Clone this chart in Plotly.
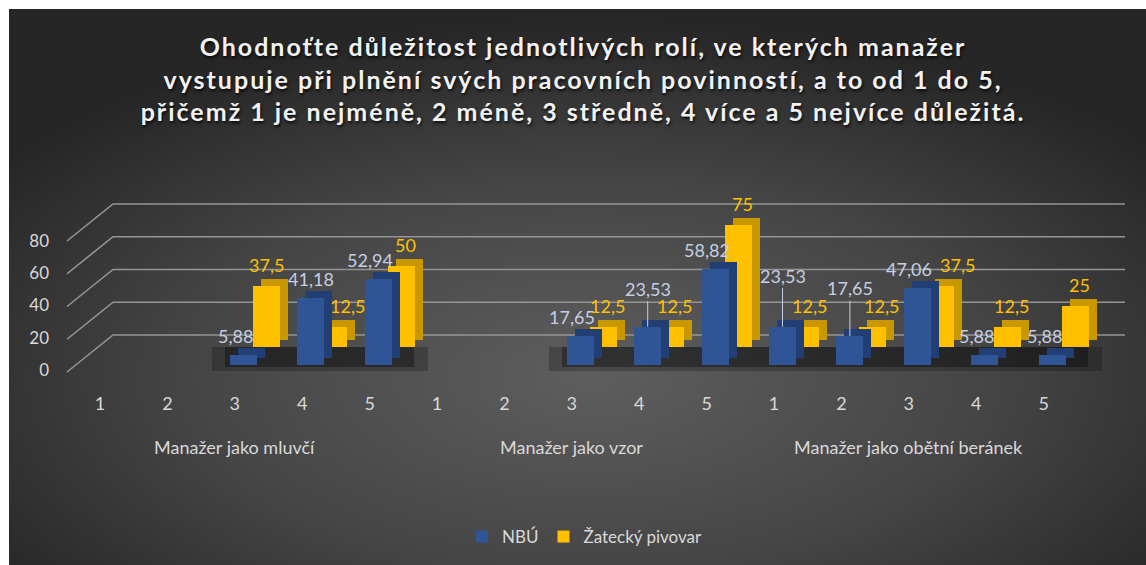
import base64
import plotly.graph_objects as go

# data
groups = ['Manažer jako mluvčí', 'Manažer jako vzor', 'Manažer jako obětní beránek']
levels = ['1', '2', '3', '4', '5']
nbu = [None, None, 5.88, 41.18, 52.94,
       None, None, 17.65, 23.53, 58.82,
       23.53, 17.65, 47.06, 5.88, 5.88]
zatec = [None, None, 37.5, 12.5, 50,
         None, None, 12.5, 12.5, 75,
         12.5, 12.5, 37.5, 12.5, 25]
y_ticks = [0, 20, 40, 60, 80]

title_lines = ['Ohodnoťte důležitost jednotlivých rolí, ve kterých manažer',
               'vystupuje při plnění svých pracovních povinností, a to od 1 do 5,',
               'přičemž 1 je nejméně, 2 méně, 3 středně, 4 více a 5 nejvíce důležitá.']

idx = list(range(len(nbu)))
ticktext = levels * len(groups)

# page geometry (px) used to fake the excel 3d look
W, H = 1146, 565
L, R, T, B = 56, 1126, 150, 385
STEP = 67.4
K = 1.63          # px per unit for the bars
DX, DY = 8, 7     # depth of the 3d boxes
BAR_W = 0.4

BLUE, BLUE_SIDE = '#2F5597', '#213F74'
YELLOW, YELLOW_SIDE = '#FFC000', '#C99700'
BLUE_LBL = '#C5CFE3'
GRID = '#959595'
TXT = '#D9D9D9'
FONT = 'Lato'


def x_range(px0):
    return [(L - px0) / STEP, (R - px0) / STEP]


def y_range(py0, k):
    return [-(B - py0) / k, (py0 - T) / k]


def fmt(v):
    return f'{v:g}'.replace('.', ',')


def only(vals):
    xs = [i for i, v in zip(idx, vals) if v is not None]
    ys = [v for v in vals if v is not None]
    return xs, ys


fig = go.Figure()

# back wall grid (on pixel/wall helper axes)
gx, gy = [], []
for v in y_ticks:
    gx += [67, 113, 1125, None]
    gy += [v - 37 / 1.6375, v, v, None]
fig.add_trace(go.Scatter(x=gx, y=gy, mode='lines', xaxis='x2', yaxis='y2',
                         line=dict(color=GRID, width=1.6), hoverinfo='skip',
                         showlegend=False))

# floor shadow: one soft block per run of categories that have data
has_data = [i for i in idx if nbu[i] is not None or zatec[i] is not None]
runs = []
for i in has_data:
    if runs and runs[-1][1] == i - 1:
        runs[-1][1] = i
    else:
        runs.append([i, i])
for extra, h, alpha in [(1.2, 14.5, 0.22), (0.8, 12.5, 0.32)]:
    fig.add_trace(go.Bar(x=[(a + b) / 2 - 14 / STEP for a, b in runs],
                         y=[h] * len(runs), base=-h,
                         width=[b - a + extra for a, b in runs], xaxis='x3', yaxis='y3',
                         marker=dict(color=f'rgba(0,0,0,{alpha})', line_width=0),
                         hoverinfo='skip', showlegend=False))

# yellow series (back row)
zx, zy = only(zatec)
fig.add_trace(go.Bar(x=[i + DX / STEP for i in zx], y=zy, base=DY / K, width=BAR_W,
                     xaxis='x3', yaxis='y3', marker=dict(color=YELLOW_SIDE, line_width=0),
                     hoverinfo='skip', showlegend=False))
fig.add_trace(go.Bar(x=zx, y=zy, width=BAR_W, name='Žatecký pivovar', legendrank=2,
                     xaxis='x3', yaxis='y3', marker=dict(color=YELLOW, line_width=0)))

# blue series (front row)
bx, by = only(nbu)
fig.add_trace(go.Bar(x=[i + DX / STEP for i in bx], y=by, base=DY / K, width=BAR_W,
                     xaxis='x4', yaxis='y4', marker=dict(color=BLUE_SIDE, line_width=0),
                     hoverinfo='skip', showlegend=False))
fig.add_trace(go.Bar(x=bx, y=by, width=BAR_W, name='NBÚ', legendrank=1,
                     xaxis='x4', yaxis='y4', marker=dict(color=BLUE, line_width=0)))

# data labels (leader lines and nudges where excel moved labels apart)
leader = {8: 38, 10: 51, 11: 48}
blue_nudge = {3: 8}
yellow_nudge = {2: -4, 3: 10, 11: 5, 12: 13}
annotations = []
for i, v in zip(bx, by):
    if i in leader:
        annotations.append(dict(x=i, y=v, xref='x4', yref='y4', text=fmt(v),
                                showarrow=True, ax=0, ay=-leader[i], arrowhead=0,
                                arrowwidth=1, arrowcolor=BLUE_LBL, standoff=0,
                                font=dict(family=FONT, size=18, color=BLUE_LBL)))
    else:
        annotations.append(dict(x=i, y=v, xref='x4', yref='y4', text=fmt(v),
                                showarrow=False, xshift=-8 + blue_nudge.get(i, 0), yshift=19,
                                xanchor='center', yanchor='middle',
                                font=dict(family=FONT, size=18, color=BLUE_LBL)))
for i, v in zip(zx, zy):
    annotations.append(dict(x=i, y=v, xref='x3', yref='y3', text=fmt(v),
                            showarrow=False, xshift=4 + yellow_nudge.get(i, 0), yshift=21,
                            xanchor='center', yanchor='middle',
                            font=dict(family=FONT, size=18, color=YELLOW)))

# group labels under the level ticks
for g, name in enumerate(groups):
    annotations.append(dict(x=g * len(levels) + 2, y=(B - 447) / (B - T), xref='x',
                            yref='paper', text=name, showarrow=False,
                            xanchor='center', yanchor='middle',
                            font=dict(family=FONT, size=18, color=TXT)))

# gradient background of the chart area
bg_svg = (f'<svg xmlns="http://www.w3.org/2000/svg" width="{W}" height="{H}">'
          '<defs><radialGradient id="g" cx="0.51" cy="0.66" r="0.64">'
          '<stop offset="0" stop-color="#5E5E5E"/><stop offset="0.55" stop-color="#454545"/>'
          '<stop offset="1" stop-color="#262626"/></radialGradient></defs>'
          f'<rect x="0" y="0" width="{W}" height="{H}" fill="url(#g)"/></svg>')
bg_src = 'data:image/svg+xml;base64,' + base64.b64encode(bg_svg.encode()).decode()

hidden = dict(visible=False, showgrid=False, zeroline=False, fixedrange=True)

title_html = '<br>'.join(f'<span style="letter-spacing:2px">{t}</span>' for t in title_lines)

fig.update_layout(
    width=W, height=H,
    margin=dict(l=L, r=W - R, t=T, b=H - B, autoexpand=False),
    paper_bgcolor='white',
    plot_bgcolor='rgba(0,0,0,0)',
    barmode='overlay',
    bargap=0,
    title=dict(text=title_html, x=583 / W, xref='container', xanchor='center',
               y=1 - 56 / H, yref='container', yanchor='top',
               font=dict(family=FONT, size=25, weight='bold', color='#F2F2F2',
                         shadow='1px 2px 3px rgba(0,0,0,0.8)')),
    xaxis=dict(range=x_range(100), tickmode='array', tickvals=idx, ticktext=ticktext,
               tickfont=dict(family=FONT, size=18, color=TXT), showgrid=False,
               zeroline=False, showline=False, ticks='', ticklabelstandoff=6),
    yaxis=dict(range=y_range(370, 1.613), tickmode='array', tickvals=y_ticks,
               tickfont=dict(family=FONT, size=17, color=TXT), showgrid=False,
               zeroline=False, showline=False, ticks='', ticklabelstandoff=6),
    xaxis2=dict(range=[L, R], overlaying='x', **hidden),
    yaxis2=dict(range=y_range(335, 1.6375), overlaying='y', **hidden),
    xaxis3=dict(range=x_range(131.5), overlaying='x', **hidden),
    yaxis3=dict(range=y_range(347, K), overlaying='y', **hidden),
    xaxis4=dict(range=x_range(108.5), overlaying='x', **hidden),
    yaxis4=dict(range=y_range(365, K), overlaying='y', **hidden),
    legend=dict(orientation='h', x=(585 - L) / (R - L), xanchor='center',
                y=(B - 537) / (B - T), yanchor='middle', itemwidth=30,
                font=dict(family=FONT, size=17, color=TXT), bgcolor='rgba(0,0,0,0)'),
    annotations=annotations,
    images=[dict(source=bg_src, xref='paper', yref='paper',
                 x=(9 - L) / (R - L), y=(B - 9) / (B - T),
                 sizex=(W - 9) / (R - L), sizey=(H - 9) / (B - T),
                 xanchor='left', yanchor='top', sizing='stretch', layer='below')],
    showlegend=True,
)

# drop the default body margin so the figure sits at the page corner
fig.write_html('out.html', config={'displayModeBar': False},
               post_script="document.body.style.margin='0';")
